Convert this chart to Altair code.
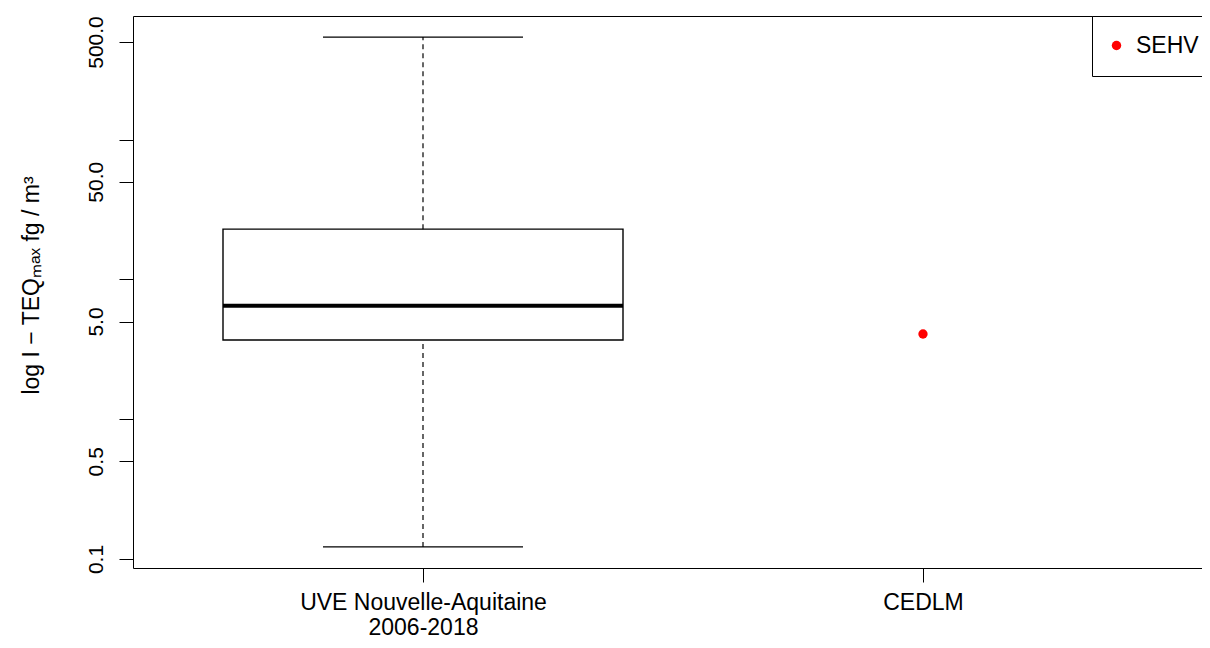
import altair as alt
import pandas as pd

# ---- data ----
categories = ["UVE Nouvelle-Aquitaine\n2006-2018", "CEDLM"]

box_category = ["UVE Nouvelle-Aquitaine\n2006-2018"]
box_low = [0.122]
box_q1 = [3.69]
box_median = [6.49]
box_q3 = [22.9]
box_high = [542.0]

point_category = ["CEDLM"]
point_value = [4.07]
point_source = ["SEHV"]

y_ticks = [0.1, 0.5, 1, 5, 10, 50, 100, 500]
y_labeled = [0.1, 0.5, 5, 50, 500]

FONT = "Liberation Sans"

pos = {c: i + 1 for i, c in enumerate(categories)}

box_df = pd.DataFrame({
    "cat": box_category,
    "pos": [pos[c] for c in box_category],
    "low": box_low, "q1": box_q1, "median": box_median,
    "q3": box_q3, "high": box_high,
})
pt_df = pd.DataFrame({
    "cat": point_category,
    "pos": [pos[c] for c in point_category],
    "value": point_value,
    "source": point_source,
})

xscale = alt.Scale(domain=[0.42, 2.558], nice=False, zero=False)
yscale = alt.Scale(type="log", domain=[0.0862, 767], nice=False)

# label expression for x axis (multi-line)
parts = []
for c in categories:
    lines = c.split("\n")
    if len(lines) > 1:
        txt = "[" + ",".join("'" + l + "'" for l in lines) + "]"
    else:
        txt = "'" + lines[0] + "'"
    parts.append(f"datum.value == {pos[c]} ? {txt} : ")
x_label_expr = "".join(parts) + "''"

y_label_expr = ("indexof([" + ",".join(str(v) for v in y_labeled) +
                "], datum.value) >= 0 ? format(datum.value, '.1f') : ''")

x_axis = alt.Axis(
    values=[pos[c] for c in categories], title=None, grid=False,
    tickSize=14, tickColor="black", tickWidth=1,
    domainColor="black", domainWidth=1,
    labelExpr=x_label_expr, labelFont=FONT, labelFontSize=23,
    labelColor="black", labelAlign="center", labelBaseline="alphabetic",
    labelPadding=27, labelLineHeight=25, labelOverlap=False, labelFlush=False,
    labelLimit=0,
)
y_axis = alt.Axis(
    values=y_ticks, title="log I − TEQₘₐₓ fg / m³", grid=False,
    tickSize=14, tickColor="black", tickWidth=1,
    domainColor="black", domainWidth=1,
    labelExpr=y_label_expr, labelFont=FONT, labelFontSize=21,
    labelColor="black", labelAngle=270, labelAlign="center",
    labelBaseline="alphabetic", labelPadding=17, labelOverlap=False,
    labelFlush=False, labelLimit=0,
    titleFont=FONT, titleFontSize=23, titleFontWeight="normal",
    titleColor="black", titleAngle=270, titleAlign="center",
    titleBaseline="alphabetic", titleX=-95, titleY=269,
)
top_axis = alt.Axis(orient="top", title=None, labels=False, ticks=False,
                    grid=False, domain=True, domainColor="black", domainWidth=1)

base = alt.Chart(box_df)

box = base.transform_calculate(
    xa="datum.pos - 0.4", xb="datum.pos + 0.4"
).mark_rect(fill="white", stroke="black", strokeWidth=1.4).encode(
    x=alt.X("xa:Q", scale=xscale, axis=x_axis),
    x2="xb:Q",
    y=alt.Y("q1:Q", scale=yscale, axis=y_axis),
    y2="q3:Q",
)

whisk_hi = base.mark_rule(color="black", strokeWidth=1.2, strokeDash=[5, 4]).encode(
    x=alt.X("pos:Q", scale=xscale, axis=None),
    y=alt.Y("q3:Q", scale=yscale, axis=y_axis), y2="high:Q",
)
whisk_lo = base.mark_rule(color="black", strokeWidth=1.2, strokeDash=[5, 4]).encode(
    x=alt.X("pos:Q", scale=xscale, axis=None),
    y=alt.Y("low:Q", scale=yscale, axis=y_axis), y2="q1:Q",
)
cap_hi = base.transform_calculate(
    xa="datum.pos - 0.2", xb="datum.pos + 0.2"
).mark_rule(color="black", strokeWidth=1.4).encode(
    x=alt.X("xa:Q", scale=xscale, axis=None), x2="xb:Q",
    y=alt.Y("high:Q", scale=yscale, axis=y_axis),
)
cap_lo = base.transform_calculate(
    xa="datum.pos - 0.2", xb="datum.pos + 0.2"
).mark_rule(color="black", strokeWidth=1.4).encode(
    x=alt.X("xa:Q", scale=xscale, axis=None), x2="xb:Q",
    y=alt.Y("low:Q", scale=yscale, axis=y_axis),
)
med = base.transform_calculate(
    xa="datum.pos - 0.4", xb="datum.pos + 0.4"
).mark_rule(color="black", strokeWidth=4).encode(
    x=alt.X("xa:Q", scale=xscale, axis=None), x2="xb:Q",
    y=alt.Y("median:Q", scale=yscale, axis=y_axis),
)

pts = alt.Chart(pt_df).mark_point(filled=True, size=87, opacity=1).encode(
    x=alt.X("pos:Q", scale=xscale, axis=top_axis),
    y=alt.Y("value:Q", scale=yscale, axis=y_axis),
    color=alt.Color(
        "source:N",
        scale=alt.Scale(domain=point_source, range=["#ff0000"]),
        legend=alt.Legend(
            title=None, orient="none", legendX=959, legendY=0,
            padding=18, strokeColor="black", fillColor="white",
            cornerRadius=0, symbolType="circle", symbolSize=90,
            symbolStrokeWidth=0, symbolOffset=-5, labelFont=FONT,
            labelFontSize=23, labelColor="black", labelOffset=8,
        ),
    ),
)

chart = alt.layer(box, whisk_hi, whisk_lo, cap_hi, cap_lo, med, pts).resolve_axis(
    x="independent"
).properties(
    width=1069, height=552,
    padding={"left": 125, "top": 8, "right": 0, "bottom": 72},
    autosize=alt.AutoSizeParams(type="none"),
    background="white",
).configure_view(stroke=None)

chart.save("out.html", embed_options={"renderer": "svg", "actions": False})
